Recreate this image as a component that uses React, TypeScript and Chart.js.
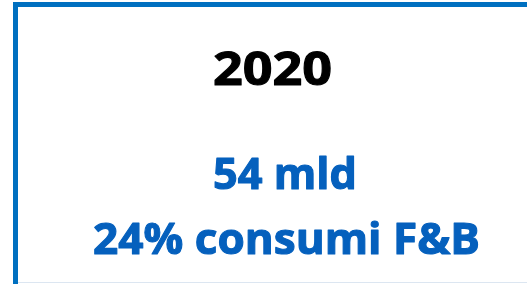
import React, { useEffect, useRef } from "react";
import { Chart, registerables } from "chart.js";

Chart.register(...registerables);

const headline: string[] = ["2020"];
const valueLines: string[] = ["54 mld", "24% consumi F&B"];
const categories: string[] = [""];
const seriesValues: number[] = [];

const BORDER_BLUE = "#0070C0";
const TEXT_BLUE = "#0560BD";
const FONT = "'Open Sans', Lato, sans-serif";

function drawFitted(
  ctx: CanvasRenderingContext2D,
  text: string,
  cx: number,
  baseline: number,
  targetWidth: number,
  color: string
) {
  const w = ctx.measureText(text).width;
  const sx = w > 0 ? targetWidth / w : 1;
  ctx.save();
  ctx.translate(cx, baseline);
  ctx.scale(sx, 1);
  ctx.textAlign = "center";
  ctx.fillStyle = color;
  ctx.strokeStyle = color;
  ctx.lineWidth = 1.1;
  ctx.lineJoin = "round";
  ctx.fillText(text, 0, 0);
  ctx.strokeText(text, 0, 0);
  ctx.restore();
}

const boxPlugin = {
  id: "boxText",
  beforeDraw(chart: any) {
    const ctx = chart.ctx as CanvasRenderingContext2D;
    const W = chart.width;
    const H = chart.height;
    ctx.save();
    ctx.fillStyle = "#ffffff";
    ctx.fillRect(0, 0, W, H);
    ctx.fillStyle = "#DCE6F1";
    ctx.fillRect(16, H - 2, W - 16, 1);
    ctx.strokeStyle = BORDER_BLUE;
    ctx.lineWidth = 5;
    ctx.strokeRect(15.5, 4.5, W + 40, H + 40);
    ctx.restore();
  },
  afterDraw(chart: any) {
    const ctx = chart.ctx as CanvasRenderingContext2D;
    ctx.save();
    ctx.textBaseline = "alphabetic";
    ctx.font = `bold 47px ${FONT}`;
    headline.forEach((t) => drawFitted(ctx, t, 272.5, 85, 119, "#000000"));
    ctx.font = `bold 43px ${FONT}`;
    const baselines = [189, 254];
    const centers = [285, 286.5];
    const widths = [144, 387];
    valueLines.forEach((t, i) => drawFitted(ctx, t, centers[i], baselines[i], widths[i], TEXT_BLUE));
    ctx.restore();
  },
};

export default function App() {
  const ref = useRef<HTMLCanvasElement | null>(null);
  useEffect(() => {
    if (!ref.current) return;
    const chart = new Chart(ref.current, {
      type: "bar",
      data: {
        labels: categories,
        datasets: [{ label: headline[0], data: seriesValues }],
      },
      options: {
        responsive: false,
        animation: false,
        plugins: {
          legend: { display: false },
          tooltip: { enabled: false },
          title: { display: false },
        },
        scales: {
          x: { display: false },
          y: { display: false },
        },
      },
      plugins: [boxPlugin],
    });
    return () => chart.destroy();
  }, []);
  return (
    <div style={{ position: "fixed", left: 0, top: 0, width: 527, height: 284 }}>
      <canvas ref={ref} width={527} height={284} style={{ display: "block" }} />
    </div>
  );
}
